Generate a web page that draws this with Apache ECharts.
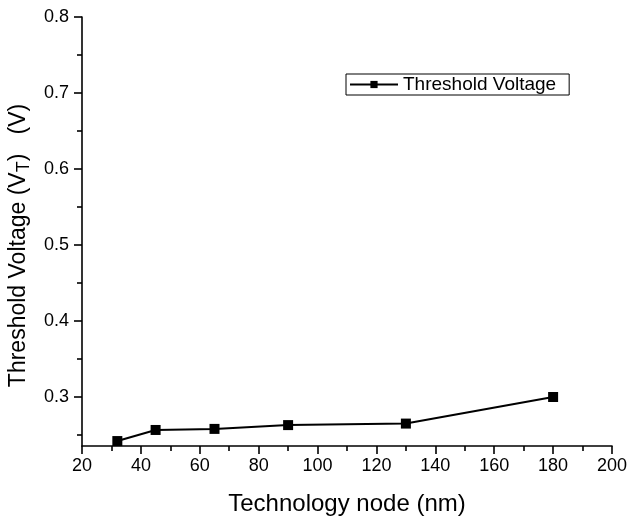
<!DOCTYPE html>
<html><head><meta charset="utf-8">
<script src="https://cdn.jsdelivr.net/npm/echarts@6/dist/echarts.min.js"></script>
<style>html,body{margin:0;padding:0;background:#fff}#c{width:628px;height:516px}</style>
</head><body><div id="c"></div>
<script>
const nodes = [32, 45, 65, 90, 130, 180];
const vt = [0.242, 0.2566, 0.258, 0.263, 0.265, 0.300];
const yMajor = [0.3, 0.4, 0.5, 0.6, 0.7, 0.8];
const yMinor = [0.25, 0.35, 0.45, 0.55, 0.65, 0.75];
const seriesName = 'Threshold Voltage';

const chart = echarts.init(document.getElementById('c'));
const font = 'Liberation Sans, Arial, sans-serif';
chart.setOption({
  animation: false,
  grid: {left: 82, right: 16, top: 17, bottom: 70, outerBoundsMode: 'none', containLabel: false},
  legend: {
    data: [seriesName], left: 346, top: 74, orient: 'horizontal',
    borderColor: '#000', borderWidth: 1, borderRadius: 0, padding: [1, 13, 1, 3],
    itemWidth: 48, itemHeight: 9, itemGap: 4,
    textStyle: {fontFamily: font, fontSize: 19, color: '#000'}
  },
  xAxis: {
    type: 'value', min: 20, max: 200, interval: 20,
    name: 'Technology node (nm)', nameLocation: 'middle', nameGap: 46,
    nameTextStyle: {fontFamily: font, fontSize: 24, color: '#000'},
    axisLine: {lineStyle: {color: '#000', width: 1.6}},
    axisTick: {show: true, length: 8, lineStyle: {color: '#000', width: 1.6}},
    minorTick: {show: true, splitNumber: 2, length: 5, lineStyle: {color: '#000', width: 1.6}},
    axisLabel: {fontFamily: font, fontSize: 18, color: '#000', margin: 11},
    splitLine: {show: false}
  },
  yAxis: [{
    type: 'value', min: 0.2355, max: 0.8,
    name: '{a|Threshold Voltage (V}{s|T}{a|)   (V)}', nameLocation: 'middle', nameGap: 48, nameRotate: 90,
    nameTextStyle: {padding: [0, 28, 0, 0], rich: {
      a: {fontFamily: font, fontSize: 23, color: '#000'},
      s: {fontFamily: font, fontSize: 18, color: '#000', verticalAlign: 'bottom', padding: [10, 0, 0, 0]}
    }},
    axisLine: {show: true, lineStyle: {color: '#000', width: 1.6}},
    axisTick: {show: true, length: 8, customValues: yMajor, lineStyle: {color: '#000', width: 1.6}},
    axisLabel: {fontFamily: font, fontSize: 18, color: '#000', margin: 13, customValues: yMajor,
      formatter: v => v.toFixed(1)},
    splitLine: {show: false}
  }, {
    type: 'value', min: 0.2355, max: 0.8, position: 'left', offset: 0,
    axisLine: {show: false},
    axisTick: {show: true, length: 5, customValues: yMinor, lineStyle: {color: '#000', width: 1.6}},
    axisLabel: {show: false},
    splitLine: {show: false}
  }],
  series: [{
    name: seriesName, type: 'line', yAxisIndex: 0,
    data: nodes.map((n, i) => [n, vt[i]]),
    symbol: 'rect', symbolSize: 10,
    lineStyle: {color: '#000', width: 2},
    itemStyle: {color: '#000'}
  }]
});
</script></body></html>
